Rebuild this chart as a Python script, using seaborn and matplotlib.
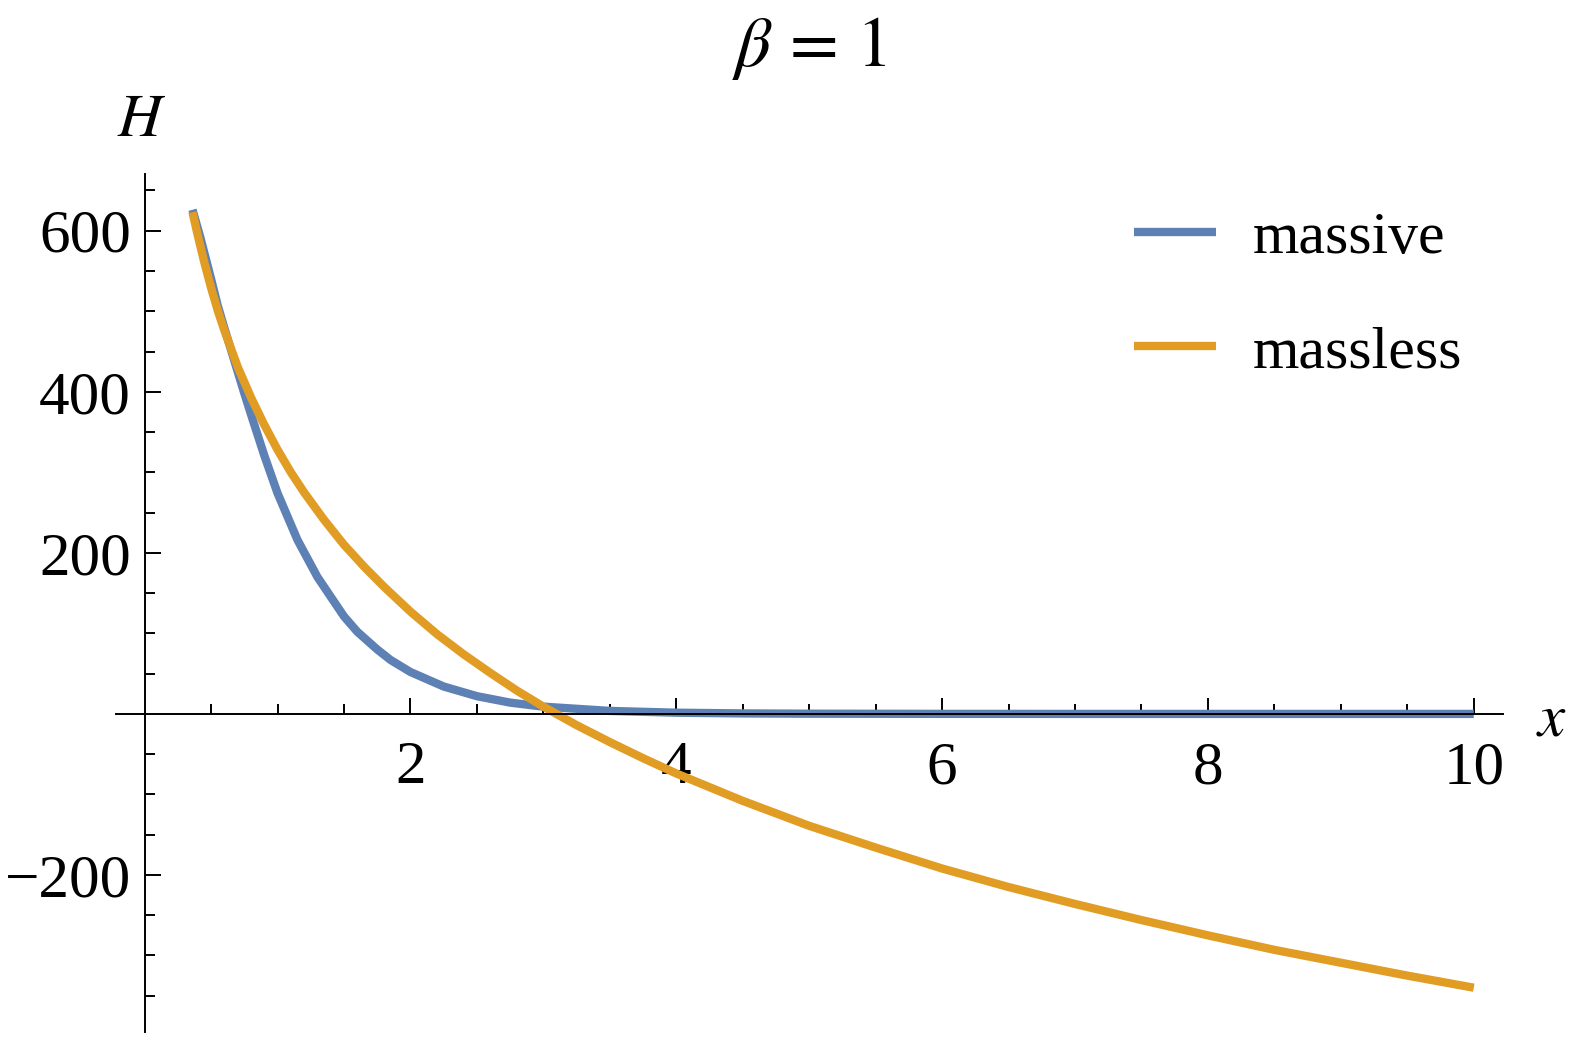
import matplotlib
matplotlib.use("Agg")
import matplotlib.pyplot as plt
import seaborn as sns
from matplotlib.ticker import FixedLocator

# values
x_massive = [0.36, 0.42, 0.5, 0.55, 0.6, 0.65, 0.7, 0.75, 0.8, 0.9, 1.0, 1.15, 1.3,
             1.5, 1.6, 1.75, 1.85, 2.0, 2.25, 2.5, 2.75, 3.0, 3.5, 4.0, 4.5, 5.0,
             6.0, 7.0, 8.0, 9.0, 10.0]
h_massive = [626, 591, 540, 507, 479, 452, 425, 398, 372, 321, 274, 216, 170,
             121, 102, 80, 67, 52, 34, 22, 14, 9, 3.7, 1.5, 0.6, 0.25,
             0.05, 0, 0, 0, 0]

x_massless = [0.36, 0.4, 0.45, 0.5, 0.55, 0.6, 0.7, 0.8, 0.9, 1.0, 1.1, 1.2, 1.35,
              1.5, 1.65, 1.8, 2.0, 2.2, 2.4, 2.6, 2.8, 3.0, 3.25, 3.5, 3.75, 4.0,
              4.5, 5.0, 5.5, 6.0, 6.5, 7.0, 7.5, 8.0, 8.5, 9.0, 9.5, 10.0]
h_massless = [623, 594, 560, 529, 501, 476, 431, 393, 359, 328, 300, 275, 241,
              210, 183, 158, 127, 99, 74, 51, 29, 9, -14, -35, -55, -74,
              -108, -139, -166, -192, -215, -236, -256, -275, -293, -309, -325, -340]

x_major = [2, 4, 6, 8, 10]
x_minor = [0.5, 1, 1.5, 2.5, 3, 3.5, 4.5, 5, 5.5, 6.5, 7, 7.5, 8.5, 9, 9.5]
y_major = [-200, 200, 400, 600]
y_minor = [-350, -300, -250, -150, -100, -50, 50, 100, 150, 250, 300, 350,
           450, 500, 550, 650]

blue = "#5E81B5"
orange = "#E19C24"

sns.set_style("white")
plt.rcParams["font.family"] = ["Liberation Serif", "DejaVu Serif"]
plt.rcParams["mathtext.fontset"] = "stix"
plt.rcParams["text.color"] = "black"

fig = plt.figure(figsize=(15.78, 10.44), dpi=100)
ax = fig.add_axes([0.0733, 0.0115, 0.8791, 0.8215])

sns.lineplot(x=x_massive, y=h_massive, color=blue, linewidth=6.0,
             label="massive", ax=ax, solid_capstyle="butt")
sns.lineplot(x=x_massless, y=h_massless, color=orange, linewidth=6.0,
             label="massless", ax=ax, solid_capstyle="butt")

ax.set_xlim(-0.218, 10.219)
ax.set_ylim(-395, 670)

for s in ["top", "right"]:
    ax.spines[s].set_visible(False)
ax.spines["left"].set_position(("data", 0))
ax.spines["bottom"].set_position(("data", 0))
for s in ["left", "bottom"]:
    ax.spines[s].set_linewidth(1.4)
    ax.spines[s].set_color("black")

ax.xaxis.set_major_locator(FixedLocator(x_major))
ax.xaxis.set_minor_locator(FixedLocator(x_minor))
ax.yaxis.set_major_locator(FixedLocator(y_major))
ax.yaxis.set_minor_locator(FixedLocator(y_minor))
ax.set_xticklabels([str(v) for v in x_major])
ax.set_yticklabels(["\u2212200", "200", "400", "600"])

ax.tick_params(which="both", bottom=True, left=True, direction="in", width=1.4,
               color="black", labelsize=44, labelcolor="black")
ax.tick_params(which="major", length=11.5)
ax.tick_params(which="minor", length=7.2)
ax.tick_params(axis="x", pad=19.5)
ax.tick_params(axis="y", pad=10)

ax.set_xlabel("")
ax.set_ylabel("")
ax.set_title(r"$\beta\,=\,1$", fontsize=51, pad=78, color="black")

fig.text(142 / 1578, 1 - 136 / 1044, r"$H$", ha="center", va="baseline", fontsize=44)
fig.text(1551.7 / 1578, 1 - 735 / 1044, r"$x$", ha="center", va="baseline", fontsize=44)

leg = ax.legend(loc="upper left", bbox_to_anchor=(1134 / 1578, 1 - 211 / 1044),
                bbox_transform=fig.transFigure, frameon=False, fontsize=43,
                borderpad=0, borderaxespad=0, handlelength=1.37, handletextpad=0.62,
                labelspacing=1.0)
for t in leg.get_texts():
    t.set_color("black")

fig.savefig("out.png", dpi=100)
